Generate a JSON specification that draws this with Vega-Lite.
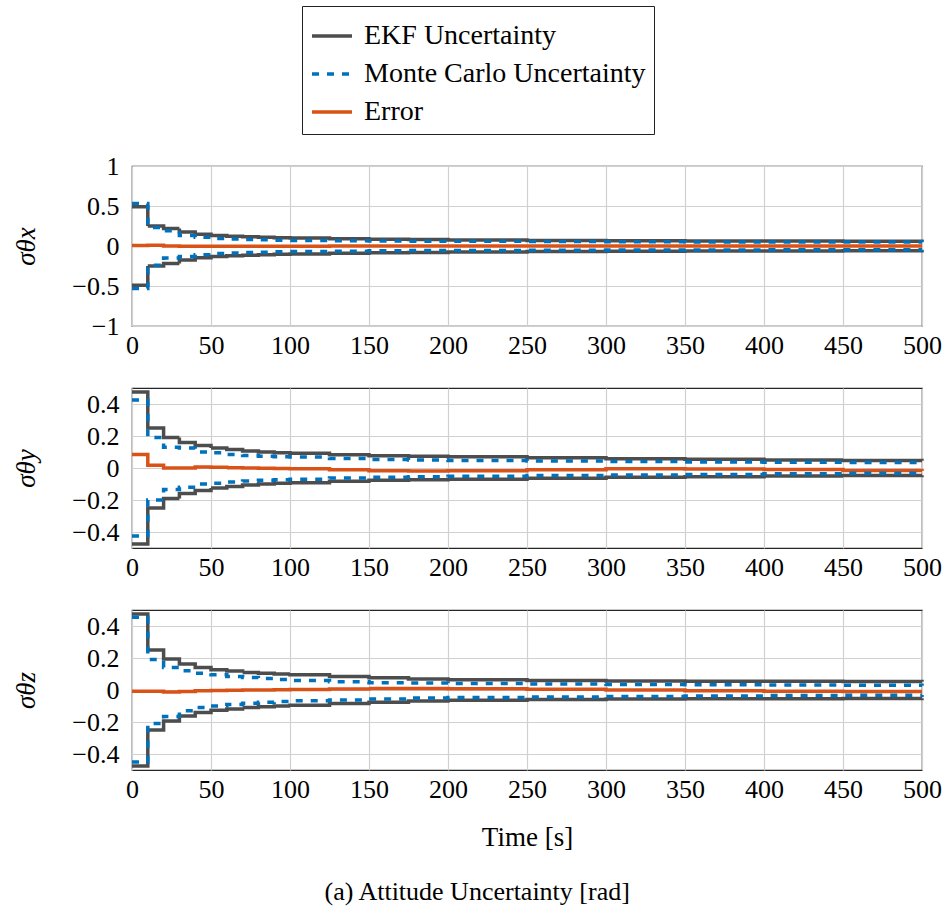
{
  "$schema": "https://vega.github.io/schema/vega-lite/v6.json",
  "background": "white",
  "padding": {"left": 12, "top": 5, "right": 5, "bottom": 10},
  "spacing": 25,
  "title": {"text": "(a) Attitude Uncertainty [rad]", "orient": "bottom", "anchor": "middle", "fontSize": 26, "font": "Times New Roman, Liberation Serif, serif", "fontWeight": "normal", "color": "black", "offset": 28},
  "data": {"values": [
    {"p":"x","s":"EKF Uncertainty","t":0,"u":0.49,"d":-0.49},
    {"p":"x","s":"EKF Uncertainty","t":10,"u":0.25,"d":-0.25},
    {"p":"x","s":"EKF Uncertainty","t":20,"u":0.22,"d":-0.22},
    {"p":"x","s":"EKF Uncertainty","t":30,"u":0.175,"d":-0.175},
    {"p":"x","s":"EKF Uncertainty","t":40,"u":0.146,"d":-0.146},
    {"p":"x","s":"EKF Uncertainty","t":50,"u":0.13,"d":-0.13},
    {"p":"x","s":"EKF Uncertainty","t":60,"u":0.122,"d":-0.122},
    {"p":"x","s":"EKF Uncertainty","t":70,"u":0.115,"d":-0.115},
    {"p":"x","s":"EKF Uncertainty","t":80,"u":0.109,"d":-0.109},
    {"p":"x","s":"EKF Uncertainty","t":90,"u":0.104,"d":-0.104},
    {"p":"x","s":"EKF Uncertainty","t":100,"u":0.1,"d":-0.1},
    {"p":"x","s":"EKF Uncertainty","t":125,"u":0.092,"d":-0.092},
    {"p":"x","s":"EKF Uncertainty","t":150,"u":0.085,"d":-0.085},
    {"p":"x","s":"EKF Uncertainty","t":175,"u":0.08,"d":-0.08},
    {"p":"x","s":"EKF Uncertainty","t":200,"u":0.076,"d":-0.076},
    {"p":"x","s":"EKF Uncertainty","t":250,"u":0.07,"d":-0.07},
    {"p":"x","s":"EKF Uncertainty","t":300,"u":0.066,"d":-0.066},
    {"p":"x","s":"EKF Uncertainty","t":350,"u":0.063,"d":-0.063},
    {"p":"x","s":"EKF Uncertainty","t":400,"u":0.061,"d":-0.061},
    {"p":"x","s":"EKF Uncertainty","t":450,"u":0.059,"d":-0.059},
    {"p":"x","s":"EKF Uncertainty","t":500,"u":0.058,"d":-0.058},
    {"p":"x","s":"Monte Carlo Uncertainty","t":0,"u":0.53,"d":-0.53},
    {"p":"x","s":"Monte Carlo Uncertainty","t":10,"u":0.23,"d":-0.24},
    {"p":"x","s":"Monte Carlo Uncertainty","t":20,"u":0.19,"d":-0.15},
    {"p":"x","s":"Monte Carlo Uncertainty","t":30,"u":0.13,"d":-0.13},
    {"p":"x","s":"Monte Carlo Uncertainty","t":40,"u":0.11,"d":-0.11},
    {"p":"x","s":"Monte Carlo Uncertainty","t":50,"u":0.095,"d":-0.095},
    {"p":"x","s":"Monte Carlo Uncertainty","t":60,"u":0.088,"d":-0.088},
    {"p":"x","s":"Monte Carlo Uncertainty","t":70,"u":0.082,"d":-0.082},
    {"p":"x","s":"Monte Carlo Uncertainty","t":80,"u":0.077,"d":-0.077},
    {"p":"x","s":"Monte Carlo Uncertainty","t":90,"u":0.073,"d":-0.073},
    {"p":"x","s":"Monte Carlo Uncertainty","t":100,"u":0.07,"d":-0.07},
    {"p":"x","s":"Monte Carlo Uncertainty","t":125,"u":0.066,"d":-0.065},
    {"p":"x","s":"Monte Carlo Uncertainty","t":150,"u":0.062,"d":-0.06},
    {"p":"x","s":"Monte Carlo Uncertainty","t":175,"u":0.06,"d":-0.057},
    {"p":"x","s":"Monte Carlo Uncertainty","t":200,"u":0.058,"d":-0.055},
    {"p":"x","s":"Monte Carlo Uncertainty","t":250,"u":0.055,"d":-0.052},
    {"p":"x","s":"Monte Carlo Uncertainty","t":300,"u":0.053,"d":-0.05},
    {"p":"x","s":"Monte Carlo Uncertainty","t":350,"u":0.051,"d":-0.049},
    {"p":"x","s":"Monte Carlo Uncertainty","t":400,"u":0.05,"d":-0.048},
    {"p":"x","s":"Monte Carlo Uncertainty","t":450,"u":0.049,"d":-0.047},
    {"p":"x","s":"Monte Carlo Uncertainty","t":500,"u":0.048,"d":-0.046},
    {"p":"x","s":"Error","t":0,"u":0.005},
    {"p":"x","s":"Error","t":10,"u":0.008},
    {"p":"x","s":"Error","t":20,"u":0.0},
    {"p":"x","s":"Error","t":30,"u":-0.002},
    {"p":"x","s":"Error","t":40,"u":-0.002},
    {"p":"x","s":"Error","t":50,"u":-0.003},
    {"p":"x","s":"Error","t":60,"u":-0.003},
    {"p":"x","s":"Error","t":70,"u":-0.002},
    {"p":"x","s":"Error","t":80,"u":-0.002},
    {"p":"x","s":"Error","t":90,"u":-0.002},
    {"p":"x","s":"Error","t":100,"u":-0.002},
    {"p":"x","s":"Error","t":125,"u":-0.001},
    {"p":"x","s":"Error","t":150,"u":0.0},
    {"p":"x","s":"Error","t":175,"u":0.0},
    {"p":"x","s":"Error","t":200,"u":0.0},
    {"p":"x","s":"Error","t":250,"u":0.0},
    {"p":"x","s":"Error","t":300,"u":0.0},
    {"p":"x","s":"Error","t":350,"u":0.0},
    {"p":"x","s":"Error","t":400,"u":0.0},
    {"p":"x","s":"Error","t":450,"u":0.0},
    {"p":"x","s":"Error","t":500,"u":0.0},

    {"p":"y","s":"EKF Uncertainty","t":0,"u":0.475,"d":-0.475},
    {"p":"y","s":"EKF Uncertainty","t":10,"u":0.25,"d":-0.25},
    {"p":"y","s":"EKF Uncertainty","t":20,"u":0.19,"d":-0.19},
    {"p":"y","s":"EKF Uncertainty","t":30,"u":0.16,"d":-0.16},
    {"p":"y","s":"EKF Uncertainty","t":40,"u":0.14,"d":-0.14},
    {"p":"y","s":"EKF Uncertainty","t":50,"u":0.125,"d":-0.125},
    {"p":"y","s":"EKF Uncertainty","t":60,"u":0.115,"d":-0.115},
    {"p":"y","s":"EKF Uncertainty","t":70,"u":0.107,"d":-0.107},
    {"p":"y","s":"EKF Uncertainty","t":80,"u":0.1,"d":-0.1},
    {"p":"y","s":"EKF Uncertainty","t":90,"u":0.096,"d":-0.096},
    {"p":"y","s":"EKF Uncertainty","t":100,"u":0.092,"d":-0.092},
    {"p":"y","s":"EKF Uncertainty","t":125,"u":0.083,"d":-0.083},
    {"p":"y","s":"EKF Uncertainty","t":150,"u":0.077,"d":-0.077},
    {"p":"y","s":"EKF Uncertainty","t":175,"u":0.074,"d":-0.074},
    {"p":"y","s":"EKF Uncertainty","t":200,"u":0.07,"d":-0.07},
    {"p":"y","s":"EKF Uncertainty","t":250,"u":0.064,"d":-0.064},
    {"p":"y","s":"EKF Uncertainty","t":300,"u":0.058,"d":-0.058},
    {"p":"y","s":"EKF Uncertainty","t":350,"u":0.054,"d":-0.054},
    {"p":"y","s":"EKF Uncertainty","t":400,"u":0.05,"d":-0.05},
    {"p":"y","s":"EKF Uncertainty","t":450,"u":0.047,"d":-0.047},
    {"p":"y","s":"EKF Uncertainty","t":500,"u":0.045,"d":-0.045},
    {"p":"y","s":"Monte Carlo Uncertainty","t":0,"u":0.425,"d":-0.425},
    {"p":"y","s":"Monte Carlo Uncertainty","t":10,"u":0.19,"d":-0.2},
    {"p":"y","s":"Monte Carlo Uncertainty","t":20,"u":0.13,"d":-0.135},
    {"p":"y","s":"Monte Carlo Uncertainty","t":30,"u":0.125,"d":-0.12},
    {"p":"y","s":"Monte Carlo Uncertainty","t":40,"u":0.1,"d":-0.1},
    {"p":"y","s":"Monte Carlo Uncertainty","t":50,"u":0.095,"d":-0.095},
    {"p":"y","s":"Monte Carlo Uncertainty","t":60,"u":0.085,"d":-0.088},
    {"p":"y","s":"Monte Carlo Uncertainty","t":70,"u":0.078,"d":-0.082},
    {"p":"y","s":"Monte Carlo Uncertainty","t":80,"u":0.073,"d":-0.077},
    {"p":"y","s":"Monte Carlo Uncertainty","t":90,"u":0.07,"d":-0.073},
    {"p":"y","s":"Monte Carlo Uncertainty","t":100,"u":0.068,"d":-0.07},
    {"p":"y","s":"Monte Carlo Uncertainty","t":125,"u":0.06,"d":-0.062},
    {"p":"y","s":"Monte Carlo Uncertainty","t":150,"u":0.053,"d":-0.058},
    {"p":"y","s":"Monte Carlo Uncertainty","t":175,"u":0.05,"d":-0.055},
    {"p":"y","s":"Monte Carlo Uncertainty","t":200,"u":0.047,"d":-0.052},
    {"p":"y","s":"Monte Carlo Uncertainty","t":250,"u":0.043,"d":-0.047},
    {"p":"y","s":"Monte Carlo Uncertainty","t":300,"u":0.04,"d":-0.043},
    {"p":"y","s":"Monte Carlo Uncertainty","t":350,"u":0.038,"d":-0.04},
    {"p":"y","s":"Monte Carlo Uncertainty","t":400,"u":0.036,"d":-0.036},
    {"p":"y","s":"Monte Carlo Uncertainty","t":450,"u":0.035,"d":-0.033},
    {"p":"y","s":"Monte Carlo Uncertainty","t":500,"u":0.034,"d":-0.03},
    {"p":"y","s":"Error","t":0,"u":0.085},
    {"p":"y","s":"Error","t":10,"u":0.017},
    {"p":"y","s":"Error","t":20,"u":0.0},
    {"p":"y","s":"Error","t":30,"u":0.0},
    {"p":"y","s":"Error","t":40,"u":0.006},
    {"p":"y","s":"Error","t":50,"u":0.005},
    {"p":"y","s":"Error","t":60,"u":0.002},
    {"p":"y","s":"Error","t":70,"u":0.0},
    {"p":"y","s":"Error","t":80,"u":-0.002},
    {"p":"y","s":"Error","t":90,"u":-0.003},
    {"p":"y","s":"Error","t":100,"u":-0.005},
    {"p":"y","s":"Error","t":125,"u":-0.011},
    {"p":"y","s":"Error","t":150,"u":-0.017},
    {"p":"y","s":"Error","t":175,"u":-0.019},
    {"p":"y","s":"Error","t":200,"u":-0.017},
    {"p":"y","s":"Error","t":250,"u":-0.011},
    {"p":"y","s":"Error","t":300,"u":-0.005},
    {"p":"y","s":"Error","t":350,"u":-0.006},
    {"p":"y","s":"Error","t":400,"u":-0.01},
    {"p":"y","s":"Error","t":450,"u":-0.015},
    {"p":"y","s":"Error","t":500,"u":-0.019},

    {"p":"z","s":"EKF Uncertainty","t":0,"u":0.475,"d":-0.475},
    {"p":"z","s":"EKF Uncertainty","t":10,"u":0.25,"d":-0.25},
    {"p":"z","s":"EKF Uncertainty","t":20,"u":0.194,"d":-0.194},
    {"p":"z","s":"EKF Uncertainty","t":30,"u":0.163,"d":-0.163},
    {"p":"z","s":"EKF Uncertainty","t":40,"u":0.14,"d":-0.14},
    {"p":"z","s":"EKF Uncertainty","t":50,"u":0.127,"d":-0.127},
    {"p":"z","s":"EKF Uncertainty","t":60,"u":0.118,"d":-0.118},
    {"p":"z","s":"EKF Uncertainty","t":70,"u":0.11,"d":-0.11},
    {"p":"z","s":"EKF Uncertainty","t":80,"u":0.104,"d":-0.104},
    {"p":"z","s":"EKF Uncertainty","t":90,"u":0.1,"d":-0.1},
    {"p":"z","s":"EKF Uncertainty","t":100,"u":0.096,"d":-0.096},
    {"p":"z","s":"EKF Uncertainty","t":125,"u":0.084,"d":-0.084},
    {"p":"z","s":"EKF Uncertainty","t":150,"u":0.076,"d":-0.076},
    {"p":"z","s":"EKF Uncertainty","t":175,"u":0.068,"d":-0.068},
    {"p":"z","s":"EKF Uncertainty","t":200,"u":0.064,"d":-0.064},
    {"p":"z","s":"EKF Uncertainty","t":250,"u":0.06,"d":-0.06},
    {"p":"z","s":"EKF Uncertainty","t":300,"u":0.057,"d":-0.057},
    {"p":"z","s":"EKF Uncertainty","t":350,"u":0.055,"d":-0.055},
    {"p":"z","s":"EKF Uncertainty","t":400,"u":0.054,"d":-0.054},
    {"p":"z","s":"EKF Uncertainty","t":450,"u":0.053,"d":-0.053},
    {"p":"z","s":"EKF Uncertainty","t":500,"u":0.052,"d":-0.052},
    {"p":"z","s":"Monte Carlo Uncertainty","t":0,"u":0.454,"d":-0.45},
    {"p":"z","s":"Monte Carlo Uncertainty","t":10,"u":0.19,"d":-0.21},
    {"p":"z","s":"Monte Carlo Uncertainty","t":20,"u":0.14,"d":-0.165},
    {"p":"z","s":"Monte Carlo Uncertainty","t":30,"u":0.12,"d":-0.13},
    {"p":"z","s":"Monte Carlo Uncertainty","t":40,"u":0.104,"d":-0.11},
    {"p":"z","s":"Monte Carlo Uncertainty","t":50,"u":0.095,"d":-0.1},
    {"p":"z","s":"Monte Carlo Uncertainty","t":60,"u":0.085,"d":-0.09},
    {"p":"z","s":"Monte Carlo Uncertainty","t":70,"u":0.078,"d":-0.083},
    {"p":"z","s":"Monte Carlo Uncertainty","t":80,"u":0.072,"d":-0.077},
    {"p":"z","s":"Monte Carlo Uncertainty","t":90,"u":0.066,"d":-0.072},
    {"p":"z","s":"Monte Carlo Uncertainty","t":100,"u":0.06,"d":-0.067},
    {"p":"z","s":"Monte Carlo Uncertainty","t":125,"u":0.052,"d":-0.062},
    {"p":"z","s":"Monte Carlo Uncertainty","t":150,"u":0.046,"d":-0.057},
    {"p":"z","s":"Monte Carlo Uncertainty","t":175,"u":0.043,"d":-0.05},
    {"p":"z","s":"Monte Carlo Uncertainty","t":200,"u":0.04,"d":-0.047},
    {"p":"z","s":"Monte Carlo Uncertainty","t":250,"u":0.037,"d":-0.043},
    {"p":"z","s":"Monte Carlo Uncertainty","t":300,"u":0.035,"d":-0.04},
    {"p":"z","s":"Monte Carlo Uncertainty","t":350,"u":0.033,"d":-0.037},
    {"p":"z","s":"Monte Carlo Uncertainty","t":400,"u":0.031,"d":-0.035},
    {"p":"z","s":"Monte Carlo Uncertainty","t":450,"u":0.029,"d":-0.033},
    {"p":"z","s":"Monte Carlo Uncertainty","t":500,"u":0.027,"d":-0.031},
    {"p":"z","s":"Error","t":0,"u":-0.008},
    {"p":"z","s":"Error","t":10,"u":-0.008},
    {"p":"z","s":"Error","t":20,"u":-0.012},
    {"p":"z","s":"Error","t":30,"u":-0.01},
    {"p":"z","s":"Error","t":40,"u":-0.005},
    {"p":"z","s":"Error","t":50,"u":-0.003},
    {"p":"z","s":"Error","t":60,"u":-0.002},
    {"p":"z","s":"Error","t":70,"u":0.0},
    {"p":"z","s":"Error","t":80,"u":0.0},
    {"p":"z","s":"Error","t":90,"u":0.002},
    {"p":"z","s":"Error","t":100,"u":0.003},
    {"p":"z","s":"Error","t":125,"u":0.006},
    {"p":"z","s":"Error","t":150,"u":0.009},
    {"p":"z","s":"Error","t":175,"u":0.01},
    {"p":"z","s":"Error","t":200,"u":0.008},
    {"p":"z","s":"Error","t":250,"u":0.005},
    {"p":"z","s":"Error","t":300,"u":0.0},
    {"p":"z","s":"Error","t":350,"u":-0.005},
    {"p":"z","s":"Error","t":400,"u":-0.008},
    {"p":"z","s":"Error","t":450,"u":-0.009},
    {"p":"z","s":"Error","t":500,"u":-0.009}
  ]},
  "vconcat": [
    {
      "width": 790, "height": 160,
      "transform": [{"filter": "datum.p == 'x'"}],
      "encoding": {
        "x": {"field": "t", "type": "quantitative", "scale": {"domain": [0, 500], "nice": false}, "axis": {"values": [0,50,100,150,200,250,300,350,400,450,500], "title": null}},
        "color": {"field": "s", "type": "nominal", "scale": {"domain": ["EKF Uncertainty", "Monte Carlo Uncertainty", "Error"], "range": ["#4d4d4d", "#0072bd", "#d95319"]}, "legend": {"title": null}},
        "strokeDash": {"field": "s", "type": "nominal", "scale": {"domain": ["EKF Uncertainty", "Monte Carlo Uncertainty", "Error"], "range": [[1, 0], [7, 8], [1, 0]]}, "legend": {"title": null}}
      },
      "layer": [
        {"mark": {"type": "line", "interpolate": "step-after", "strokeWidth": 3.5},
         "encoding": {"y": {"field": "u", "type": "quantitative", "scale": {"domain": [-1, 1], "nice": false}, "axis": {"values": [-1, -0.5, 0, 0.5, 1], "format": "~g", "title": "σθx"}}}},
        {"transform": [{"filter": "isValid(datum.d)"}],
         "mark": {"type": "line", "interpolate": "step-after", "strokeWidth": 3.5},
         "encoding": {"y": {"field": "d", "type": "quantitative", "scale": {"domain": [-1, 1], "nice": false}, "axis": {"values": [-1, -0.5, 0, 0.5, 1], "format": "~g", "title": "σθx"}}}}
      ]
    },
    {
      "width": 790, "height": 160,
      "transform": [{"filter": "datum.p == 'y'"}],
      "encoding": {
        "x": {"field": "t", "type": "quantitative", "scale": {"domain": [0, 500], "nice": false}, "axis": {"values": [0,50,100,150,200,250,300,350,400,450,500], "title": null}},
        "color": {"field": "s", "type": "nominal", "scale": {"domain": ["EKF Uncertainty", "Monte Carlo Uncertainty", "Error"], "range": ["#4d4d4d", "#0072bd", "#d95319"]}, "legend": {"title": null}},
        "strokeDash": {"field": "s", "type": "nominal", "scale": {"domain": ["EKF Uncertainty", "Monte Carlo Uncertainty", "Error"], "range": [[1, 0], [7, 8], [1, 0]]}, "legend": {"title": null}}
      },
      "layer": [
        {"mark": {"type": "line", "interpolate": "step-after", "strokeWidth": 3.5},
         "encoding": {"y": {"field": "u", "type": "quantitative", "scale": {"domain": [-0.5, 0.5], "nice": false}, "axis": {"values": [-0.4, -0.2, 0, 0.2, 0.4], "format": "~g", "title": "σθy"}}}},
        {"transform": [{"filter": "isValid(datum.d)"}],
         "mark": {"type": "line", "interpolate": "step-after", "strokeWidth": 3.5},
         "encoding": {"y": {"field": "d", "type": "quantitative", "scale": {"domain": [-0.5, 0.5], "nice": false}, "axis": {"values": [-0.4, -0.2, 0, 0.2, 0.4], "format": "~g", "title": "σθy"}}}}
      ]
    },
    {
      "width": 790, "height": 160,
      "transform": [{"filter": "datum.p == 'z'"}],
      "encoding": {
        "x": {"field": "t", "type": "quantitative", "scale": {"domain": [0, 500], "nice": false}, "axis": {"values": [0,50,100,150,200,250,300,350,400,450,500], "title": "Time [s]", "titlePadding": 22}},
        "color": {"field": "s", "type": "nominal", "scale": {"domain": ["EKF Uncertainty", "Monte Carlo Uncertainty", "Error"], "range": ["#4d4d4d", "#0072bd", "#d95319"]}, "legend": {"title": null}},
        "strokeDash": {"field": "s", "type": "nominal", "scale": {"domain": ["EKF Uncertainty", "Monte Carlo Uncertainty", "Error"], "range": [[1, 0], [7, 8], [1, 0]]}, "legend": {"title": null}}
      },
      "layer": [
        {"mark": {"type": "line", "interpolate": "step-after", "strokeWidth": 3.5},
         "encoding": {"y": {"field": "u", "type": "quantitative", "scale": {"domain": [-0.5, 0.5], "nice": false}, "axis": {"values": [-0.4, -0.2, 0, 0.2, 0.4], "format": "~g", "title": "σθz"}}}},
        {"transform": [{"filter": "isValid(datum.d)"}],
         "mark": {"type": "line", "interpolate": "step-after", "strokeWidth": 3.5},
         "encoding": {"y": {"field": "d", "type": "quantitative", "scale": {"domain": [-0.5, 0.5], "nice": false}, "axis": {"values": [-0.4, -0.2, 0, 0.2, 0.4], "format": "~g", "title": "σθz"}}}}
      ]
    }
  ],
  "config": {
    "font": "Times New Roman, Liberation Serif, serif",
    "style": {"guide-label": {"font": "Times New Roman, Liberation Serif, serif"}, "guide-title": {"font": "Times New Roman, Liberation Serif, serif"}},
    "view": {"stroke": "#262626", "strokeWidth": 1.2},
    "axis": {"labelFont": "Times New Roman, Liberation Serif, serif", "labelFontSize": 26, "labelColor": "black", "titleFont": "Times New Roman, Liberation Serif, serif", "titleFontSize": 27, "titleFontWeight": "normal", "titleColor": "black", "grid": true, "gridColor": "#d0d0d0", "gridWidth": 1.2, "domain": false, "ticks": false, "labelPadding": 6, "labelFlush": false, "labelOverlap": false, "titlePadding": 10},
    "axisY": {"labelPadding": 13, "titleFontStyle": "italic", "titlePadding": 31, "labelExpr": "replace(datum.label, '-', '−')"},
    "legend": {"orient": "none", "legendX": 170, "legendY": -160, "direction": "vertical", "strokeColor": "#222", "fillColor": "white", "padding": 8, "labelFont": "Times New Roman, Liberation Serif, serif", "labelFontSize": 28, "labelColor": "black", "labelLimit": 500, "symbolType": "stroke", "symbolStrokeWidth": 3.5, "symbolSize": 1600, "rowPadding": 2, "labelOffset": 10, "cornerRadius": 0}
  }
}
